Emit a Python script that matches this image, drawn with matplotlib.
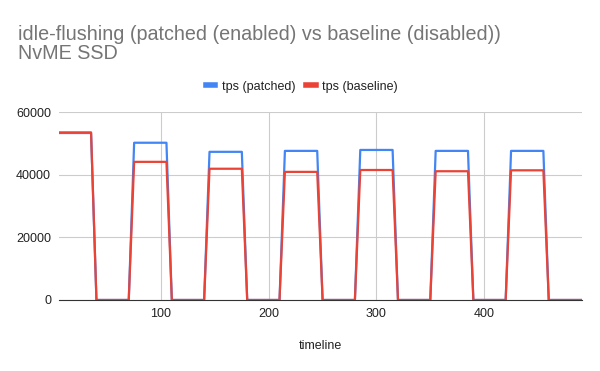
import matplotlib
matplotlib.use('Agg')
import matplotlib.pyplot as plt

# corner points of the step-like tps trace (timeline in seconds)
timeline = [5, 35, 40, 70, 75, 105, 110, 140, 145, 175, 180, 210, 215, 245,
            250, 280, 285, 315, 320, 350, 355, 385, 390, 420, 425, 455, 460, 490]
tps_patched = [53300, 53300, 0, 0, 50200, 50200, 0, 0, 47300, 47300, 0, 0, 47600, 47600,
               0, 0, 47900, 47900, 0, 0, 47600, 47600, 0, 0, 47600, 47600, 0, 0]
tps_baseline = [53500, 53500, 0, 0, 44100, 44100, 0, 0, 41900, 41900, 0, 0, 40900, 40900,
                0, 0, 41500, 41500, 0, 0, 41100, 41100, 0, 0, 41400, 41400, 0, 0]

plt.rcParams['font.family'] = ['Liberation Sans', 'DejaVu Sans']

fig = plt.figure(figsize=(6, 3.71), dpi=100)
ax = fig.add_axes([0.099, 0.1914, 0.8705, 0.5066])

ax.plot(timeline, tps_patched, color='#4285F4', lw=1.6, label='tps (patched)')
ax.plot(timeline, tps_baseline, color='#EA4335', lw=1.6, label='tps (baseline)')

ax.set_xlim(5.6, 490.6)
ax.set_ylim(0, 60000)
ax.set_xticks([100, 200, 300, 400])
ax.set_yticks([0, 20000, 40000, 60000])
ax.grid(True, color='#cccccc', lw=0.8)
ax.set_axisbelow(True)
for s in ['top', 'right', 'left']:
    ax.spines[s].set_visible(False)
ax.spines['bottom'].set_color('#333333')
ax.tick_params(length=0, labelsize=9, colors='#222222', pad=6)
ax.set_xlabel('timeline', fontsize=9, color='#222222', labelpad=14)

fig.text(0.03, 0.933, 'idle-flushing (patched (enabled) vs baseline (disabled))\nNvME SSD',
         fontsize=14.2, color='#757575', va='top', ha='left', linespacing=1.0)

leg = fig.legend(loc='center', bbox_to_anchor=(0.503, 0.766), ncol=2, frameon=False,
                 fontsize=9, handlelength=0.75, handletextpad=0.5, columnspacing=0.9,
                 labelcolor='#222222')
for h in leg.get_lines():
    h.set_linewidth(4)

fig.savefig('out.png', dpi=100)
